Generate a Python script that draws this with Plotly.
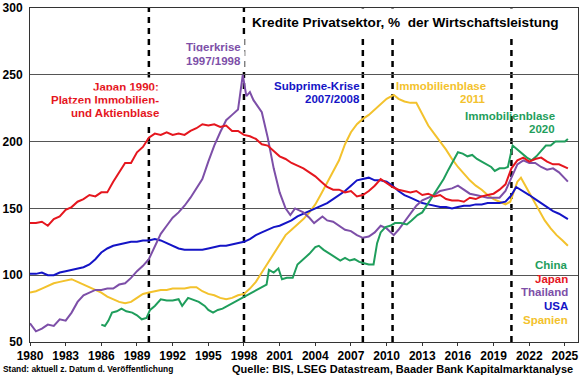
import plotly.graph_objects as go

# ---------------- data ----------------
japan_years = [1980.0, 1980.5, 1981.0, 1981.5, 1982.0, 1982.5, 1983.0, 1983.5, 1984.0, 1984.5,
               1985.0, 1985.5, 1986.0, 1986.5, 1987.0, 1987.5, 1988.0, 1988.5, 1989.0, 1989.5,
               1990.0, 1990.5, 1991.0, 1991.5, 1992.0, 1992.5, 1993.0, 1993.5, 1994.0, 1994.5,
               1995.0, 1995.5, 1996.0, 1996.5, 1997.0, 1997.5, 1998.0, 1998.5, 1999.0, 1999.5,
               2000.0, 2000.5, 2001.0, 2001.5, 2002.0, 2002.5, 2003.0, 2003.5, 2004.0, 2004.5,
               2005.0, 2005.5, 2006.0, 2006.5, 2007.0, 2007.5, 2008.0, 2008.5, 2009.0, 2009.5,
               2010.0, 2010.5, 2011.0, 2011.5, 2012.0, 2012.5, 2013.0, 2013.5, 2014.0, 2014.5,
               2015.0, 2015.5, 2016.0, 2016.5, 2017.0, 2017.5, 2018.0, 2018.5, 2019.0, 2019.5,
               2020.0, 2020.5, 2021.0, 2021.5, 2022.0, 2022.5, 2023.0, 2023.5, 2024.0, 2024.5,
               2025.0, 2025.25]
japan_vals = [139, 139, 140, 137, 142, 144, 149, 151, 155, 157,
              160, 159, 162, 162, 170, 177, 184, 184, 192, 196,
              203, 206, 205, 207, 205, 206, 205, 208, 210, 213,
              212, 213, 211, 212, 208, 208, 205, 204, 202, 198,
              197, 193, 189, 187, 184, 182, 180, 177, 174, 170,
              166, 164, 164, 162, 163, 159, 160, 163, 167, 172,
              169, 166, 164, 163, 162, 163, 160, 161, 159, 160,
              157, 156, 156, 155, 158, 157, 159, 160, 161, 164,
              168, 180, 186, 188, 185, 187, 188, 185, 183, 183,
              181, 180]

thai_years = [1980.0, 1980.5, 1981.0, 1981.5, 1982.0, 1982.5, 1983.0, 1983.5, 1984.0, 1984.5,
              1985.0, 1985.5, 1986.0, 1986.5, 1987.0, 1987.5, 1988.0, 1988.5, 1989.0, 1989.5,
              1990.0, 1990.5, 1991.0, 1991.5, 1992.0, 1992.5, 1993.0, 1993.5, 1994.0, 1994.5,
              1995.0, 1995.5, 1996.0, 1996.5, 1997.0, 1997.5, 1997.9, 1998.2, 1998.5, 1998.8,
              1999.5, 2000.0, 2000.5, 2001.0, 2001.5, 2001.9, 2002.3, 2003.0, 2003.5, 2003.9,
              2004.6, 2005.0, 2005.5, 2006.0, 2006.5, 2007.0, 2007.5, 2008.0, 2008.5, 2009.0,
              2009.5, 2010.0, 2010.6, 2011.0, 2011.5, 2012.0, 2012.5, 2013.0, 2013.5, 2014.0,
              2014.5, 2015.0, 2015.5, 2016.0, 2016.5, 2017.0, 2017.5, 2018.0, 2018.5, 2019.0,
              2019.5, 2020.0, 2020.5, 2021.0, 2021.5, 2022.0, 2022.5, 2023.0, 2023.5, 2024.0,
              2024.5, 2025.0, 2025.25]
thai_vals = [64, 58, 60, 63, 62, 67, 66, 72, 80, 85,
             87, 89, 89, 90, 90, 93, 94, 98, 103, 107,
             112, 122, 131, 137, 143, 147, 152, 158, 165, 172,
             185, 197, 207, 216, 220, 224, 250, 234, 237, 231,
             222, 203, 180, 162, 150, 145, 150, 147, 143, 139,
             144, 141, 140, 137, 134, 133, 130, 128, 129, 132,
             137, 135, 130, 134, 140, 146, 152, 156, 158, 160,
             163, 164, 165, 167, 164, 161, 160, 159, 158, 158,
             158, 163, 173, 183, 186, 184, 184, 181, 179, 180,
             177, 172, 170]

usa_years = [1980.0, 1980.5, 1981.0, 1981.5, 1982.0, 1982.5, 1983.0, 1983.5, 1984.0, 1984.5,
             1985.0, 1985.5, 1986.0, 1986.5, 1987.0, 1987.5, 1988.0, 1988.5, 1989.0, 1989.5,
             1990.0, 1990.5, 1991.0, 1991.5, 1992.0, 1992.5, 1993.0, 1993.5, 1994.0, 1994.5,
             1995.0, 1995.5, 1996.0, 1996.5, 1997.0, 1997.5, 1998.0, 1998.5, 1999.0, 1999.5,
             2000.0, 2000.5, 2001.0, 2001.5, 2002.0, 2002.5, 2003.0, 2003.5, 2004.0, 2004.5,
             2005.0, 2005.5, 2006.0, 2006.5, 2007.0, 2007.5, 2008.0, 2008.5, 2009.0, 2009.5,
             2010.0, 2010.5, 2011.0, 2011.5, 2012.0, 2012.5, 2013.0, 2013.5, 2014.0, 2014.5,
             2015.0, 2015.5, 2016.0, 2016.5, 2017.0, 2017.5, 2018.0, 2018.5, 2019.0, 2019.5,
             2020.0, 2020.5, 2020.9, 2021.5, 2022.0, 2022.5, 2023.0, 2023.5, 2024.0, 2024.5,
             2025.0, 2025.25]
usa_vals = [101, 101, 102, 100, 100, 102, 103, 104, 105, 106,
            108, 112, 117, 120, 122, 123, 124, 125, 125, 126,
            126, 127, 126, 124, 122, 120, 119, 119, 119, 119,
            120, 121, 122, 122, 123, 124, 125, 127, 130, 132,
            134, 136, 137, 139, 141, 144, 146, 148, 150, 152,
            154, 157, 160, 163, 167, 171, 172, 173, 171, 171,
            170, 167, 163, 160, 158, 156, 154, 153, 152, 151,
            151, 150, 151, 152, 152, 153, 153, 154, 154, 154,
            155, 160, 166, 163, 160, 157, 154, 151, 148, 146,
            143, 142]

spain_years = [1980.0, 1980.5, 1981.0, 1981.5, 1982.0, 1982.5, 1983.0, 1983.5, 1984.0, 1984.5,
               1985.0, 1985.5, 1986.0, 1986.5, 1987.0, 1987.5, 1988.0, 1988.5, 1989.0, 1989.5,
               1990.0, 1990.5, 1991.0, 1991.5, 1992.0, 1992.5, 1993.0, 1993.5, 1994.0, 1994.5,
               1995.0, 1995.5, 1996.0, 1996.5, 1997.0, 1997.5, 1998.0, 1998.5, 1999.0, 1999.5,
               2000.0, 2000.5, 2001.0, 2001.5, 2002.0, 2002.5, 2003.0, 2003.5, 2004.0, 2004.5,
               2005.0, 2005.5, 2006.0, 2006.5, 2007.0, 2007.5, 2008.0, 2008.5, 2009.0, 2009.5,
               2010.0, 2010.6, 2011.0, 2011.5, 2012.0, 2012.5, 2013.0, 2013.5, 2014.0, 2014.5,
               2015.0, 2015.5, 2016.0, 2016.5, 2017.0, 2017.5, 2018.0, 2018.5, 2019.0, 2019.5,
               2020.0, 2020.4, 2021.0, 2021.3, 2021.8, 2022.3, 2022.8, 2023.3, 2023.8, 2024.3,
               2024.8, 2025.25]
spain_vals = [87, 88, 90, 92, 94, 95, 96, 97, 95, 93,
              91, 89, 87, 84, 82, 80, 79, 80, 83, 86,
              87, 88, 89, 89, 90, 90, 90, 91, 91, 88,
              86, 85, 83, 82, 83, 85, 86, 90, 95, 102,
              109, 117, 124, 130, 134, 138, 142, 147, 153, 161,
              169, 177, 186, 198, 207, 213, 217, 220, 224, 228,
              232, 235, 232, 230, 229, 229, 220, 212, 206, 200,
              194, 187, 181, 176, 171, 167, 164, 160, 157, 155,
              153, 155, 170, 173, 165, 157, 148, 141, 135, 130,
              126, 122]

china_years = [1986.0, 1986.3, 1986.6, 1986.9, 1987.3, 1987.7, 1988.1, 1988.6, 1989.0, 1989.4,
               1989.8, 1990.1, 1990.5, 1991.0, 1991.5, 1992.0, 1992.5, 1992.8, 1993.3, 1993.8,
               1994.2, 1994.7, 1995.0, 1995.4, 1995.8, 1996.2, 1996.6, 1997.0, 1997.5, 1998.0,
               1998.5, 1999.0, 1999.5, 1999.9, 2000.1, 2000.5, 2000.9, 2001.2, 2001.6, 2002.1,
               2002.5, 2003.0, 2003.5, 2004.0, 2004.3, 2004.7, 2005.2, 2005.7, 2006.1, 2006.5,
               2006.9, 2007.3, 2007.7, 2008.1, 2008.5, 2008.9, 2009.2, 2009.5, 2009.9, 2010.3,
               2010.7, 2011.2, 2011.7, 2012.1, 2012.6, 2013.0, 2013.5, 2014.0, 2014.4, 2014.8,
               2015.2, 2015.6, 2016.0, 2016.4, 2016.8, 2017.2, 2017.6, 2018.0, 2018.4, 2018.8,
               2019.1, 2019.5, 2019.9, 2020.2, 2020.6, 2021.0, 2021.4, 2021.8, 2022.2, 2022.6,
               2023.0, 2023.4, 2023.8, 2024.2, 2024.6, 2025.0, 2025.25]
china_vals = [63, 62, 66, 72, 73, 75, 73, 72, 70, 67,
              68, 74, 77, 82, 81, 81, 82, 77, 83, 81,
              80, 77, 74, 72, 74, 75, 77, 79, 81, 84,
              86, 89, 91, 93, 104, 102, 105, 97, 98, 98,
              108, 112, 116, 121, 122, 119, 116, 113, 111, 113,
              111, 112, 110, 109, 108, 108, 124, 132, 136, 137,
              139, 139, 138, 141, 145, 147, 154, 160, 166, 172,
              179, 185, 192, 191, 189, 190, 187, 185, 183, 181,
              178, 180, 180, 181, 197, 194, 191, 188, 186, 189,
              193, 197, 197, 200, 200, 200, 202]

crisis_years = [1990, 1998, 2008, 2010.5, 2020.5]
x_ticks = list(range(1980, 2026, 3))
y_ticks = [50, 100, 150, 200, 250, 300]

series_names = ["China", "Japan", "Thailand", "USA", "Spanien"]
series_colors = {"Japan": "#e5161e", "Thailand": "#7d4fa8", "USA": "#1414c6",
                 "Spanien": "#f3c22d", "China": "#1f9e5c"}

# ---------------- figure ----------------
FONT = "Liberation Sans"
W, H = 580, 375
ML, MR, MT, MB = 30, 2, 8, 33
PW, PH = W - ML - MR, H - MT - MB


def px(x):
    return (x - ML) / PW


def py(y):
    return (H - MB - y) / PH


fig = go.Figure()
order = [("Spanien", spain_years, spain_vals), ("USA", usa_years, usa_vals),
         ("Thailand", thai_years, thai_vals), ("China", china_years, china_vals),
         ("Japan", japan_years, japan_vals)]
for name, xs, ys in order:
    fig.add_trace(go.Scatter(x=xs, y=ys, mode="lines", name=name,
                             line=dict(color=series_colors[name], width=2),
                             showlegend=False))

for yr in crisis_years:
    fig.add_shape(type="line", xref="x", yref="paper", x0=yr, x1=yr, y0=0, y1=1,
                  line=dict(color="black", width=2.5, dash="6px,5px"), layer="between")

annos = []


def add_text(text, x, y, color, size=11.5, xanchor="right", bg=None, pad=1):
    d = dict(text=text, xref="paper", yref="paper", x=px(x), y=py(y),
             xanchor=xanchor, yanchor="middle", showarrow=False,
             font=dict(family=FONT, size=size, color=color, weight="bold"),
             borderpad=pad)
    if bg:
        d["bgcolor"] = bg
    annos.append(d)


# title box
add_text("Kredite Privatsektor, %  der Wirtschaftsleistung", 566, 22, "black",
         size=13.6, bg="white", pad=6)
# event labels
add_text("Japan 1990:", 163, 87, series_colors["Japan"], bg="white", pad=3)
add_text("Platzen Immobilien-", 163, 100, series_colors["Japan"], bg="white", pad=3)
add_text("und Aktienblase", 163, 113, series_colors["Japan"], bg="white", pad=3)
add_text("Tigerkrise", 245, 47, series_colors["Thailand"], bg="white", pad=3)
add_text("1997/1998", 245, 61, series_colors["Thailand"], bg="white", pad=3)
add_text("Subprime-Krise", 362, 86, series_colors["USA"])
add_text("2007/2008", 362, 99, series_colors["USA"])
add_text("Immobilienblase", 488, 86, series_colors["Spanien"])
add_text("2011", 488, 99, series_colors["Spanien"])
add_text("Immobilienblase", 557, 116, series_colors["China"])
add_text("2020", 557, 129, series_colors["China"])
# legend labels
for i, name in enumerate(series_names):
    add_text(name, 570, 265 + i * 13.7, series_colors[name])
# footnotes
add_text("Stand: aktuell z. Datum d. Veröffentlichung", 2, 369, "black", size=8.4,
         xanchor="left", pad=0)
add_text("Quelle: BIS, LSEG Datastream, Baader Bank Kapitalmarktanalyse", 574, 369,
         "black", size=11, pad=0)

fig.update_layout(
    width=W, height=H,
    margin=dict(l=ML, r=MR, t=MT, b=MB),
    paper_bgcolor="white", plot_bgcolor="white",
    annotations=annos,
    xaxis=dict(range=[1980, 2026.1], tickvals=x_ticks, ticks="outside", ticklen=3,
               tickcolor="#333", showline=True, mirror=True, linecolor="#333",
               linewidth=1, showgrid=False, zeroline=False,
               tickfont=dict(family=FONT, size=12, color="black", weight="bold")),
    yaxis=dict(range=[50, 300], tickvals=y_ticks, ticks="", showline=True, mirror=True,
               linecolor="#333", linewidth=1, showgrid=True, gridcolor="#555",
               gridwidth=1, zeroline=False, ticklabelstandoff=4,
               tickfont=dict(family=FONT, size=12, color="black", weight="bold")),
)

fig.write_html("out.html", config={"displayModeBar": False},
               post_script="document.body.style.margin='0';document.body.style.overflow='hidden';")
